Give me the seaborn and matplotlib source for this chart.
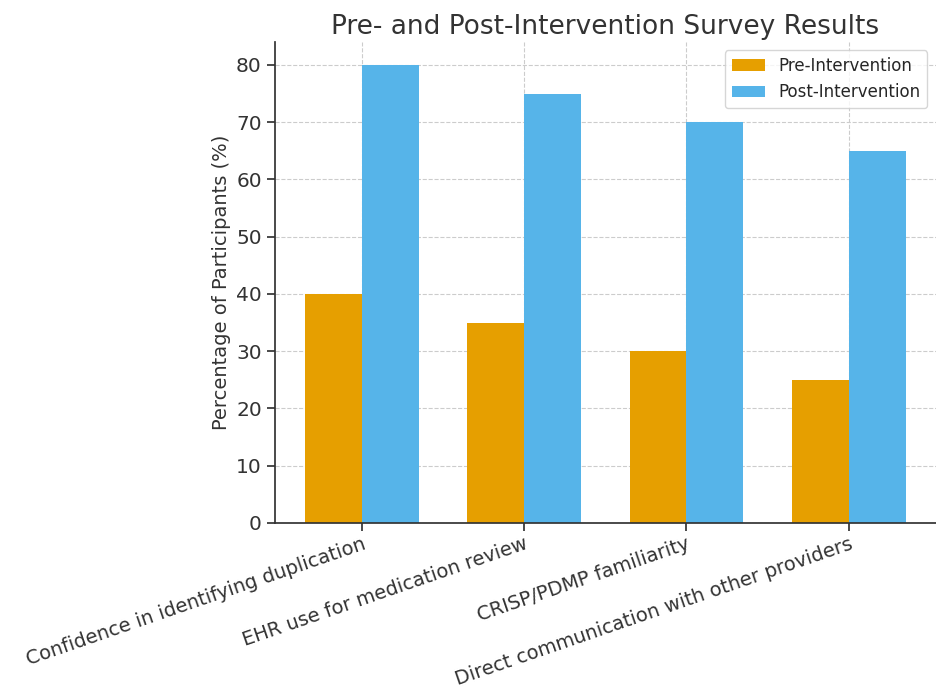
import pandas as pd
import matplotlib
matplotlib.use("Agg")
import matplotlib.pyplot as plt
import seaborn as sns

categories = ["Confidence in identifying duplication",
              "EHR use for medication review",
              "CRISP/PDMP familiarity",
              "Direct communication with other providers"]
pre_values = [40, 35, 30, 25]
post_values = [80, 75, 70, 65]
groups = ["Pre-Intervention", "Post-Intervention"]
colors = ["#E69F00", "#56B4E9"]

df = pd.DataFrame({
    "Category": categories * 2,
    "Percent": pre_values + post_values,
    "Group": [groups[0]] * 4 + [groups[1]] * 4,
})

sns.set_theme(style="ticks")
plt.rcParams["font.family"] = ["DejaVu Sans"]

fig = plt.figure(figsize=(9.37, 6.96), dpi=100)
ax = fig.add_axes([0.2935, 0.2486, 0.705, 0.6911])
sns.barplot(data=df, x="Category", y="Percent", hue="Group",
            palette=colors, width=0.7, gap=0, saturation=1, ax=ax,
            edgecolor="none")

ax.grid(True, linestyle="--", color="#cccccc", linewidth=0.8)
ax.set_axisbelow(True)
sns.despine(ax=ax)
ax.spines["left"].set_color("#333333")
ax.spines["bottom"].set_color("#333333")
ax.set_xlim(-0.535, 3.535)
ax.set_ylim(0, 84)
ax.set_xlabel("")
ax.set_ylabel("Percentage of Participants (%)", fontsize=14, color="#333333")
ax.set_title("Pre- and Post-Intervention Survey Results", fontsize=19, color="#333333")
ax.tick_params(axis="y", labelsize=14.5, colors="#333333")
ax.tick_params(axis="x", labelsize=14, colors="#333333", pad=2)
plt.setp(ax.get_xticklabels(), rotation=19, ha="right", rotation_mode="anchor")
ax.legend(loc="upper right", fontsize=12, frameon=True)

fig.savefig("out.png", dpi=100)
